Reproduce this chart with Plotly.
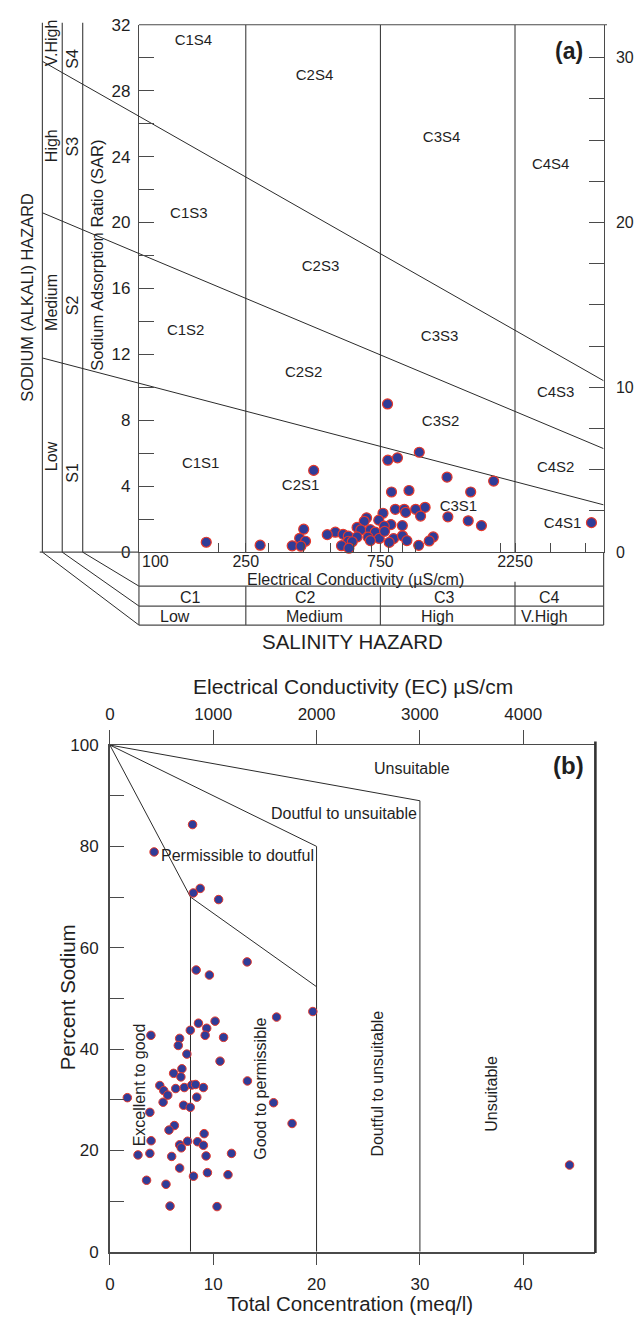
import numpy as np
import plotly.graph_objects as go

W, H = 644, 1330
FONT = "Liberation Sans, Arial, Helvetica, sans-serif"
INK = "#1f1f1f"
LINE = "#2b2b2b"
AXC = "#4a4a4a"
FILL = "#2f3c98"
EDGE = "#e5382b"

def X(x):
    return x / W

def Y(y):
    return 1 - y / H

# ---------------- Panel (a): USSL salinity / sodium hazard diagram ----------------
ec_a = [795, 1030, 862, 797, 435, 1292, 1890, 947, 821, 1567,
        1080, 847, 911, 1000, 922, 766, 1041, 1301, 4200, 1536,
        1711, 740, 670, 657, 897, 817, 774, 620, 639, 691,
        719, 401, 519, 486, 553, 577, 620, 678, 743, 835,
        776, 898, 931, 1154, 1117, 388, 407, 577, 596, 691,
        806, 546, 580, 1025, 365, 392, 281, 181]
sar_a = [8.99, 6.06, 5.72, 5.58, 4.96, 4.55, 4.31, 3.74, 3.65, 3.65,
         2.72, 2.60, 2.60, 2.60, 2.41, 2.36, 2.19, 2.14, 1.79, 1.90,
         1.61, 1.94, 2.08, 1.87, 1.61, 1.67, 1.58, 1.50, 1.35, 1.36,
         1.21, 1.39, 1.21, 1.06, 1.08, 0.97, 0.92, 0.91, 0.83, 0.82,
         1.26, 0.99, 0.70, 0.92, 0.68, 0.84, 0.66, 0.66, 0.63, 0.70,
         0.59, 0.39, 0.24, 0.41, 0.38, 0.36, 0.42, 0.60]

ec_range = [104.5, 4638.0]
salinity_bounds = [250, 750, 2250]
s_bound_left = [10.25, 18.12, 26.45]    # SAR of S-class limits at the left edge
s_bound_right = [2.87, 6.28, 10.4]      # SAR of S-class limits at the right edge
s_bound_outer = [11.78, 20.59, 29.78]   # SAR at the outer side of the hazard scale

class_labels = ["C1S4", "C2S4", "C3S4", "C4S4",
                "C1S3", "C2S3", "C3S3", "C4S3",
                "C1S2", "C2S2", "C3S2", "C4S2",
                "C1S1", "C2S1", "C3S1", "C4S1"]
class_ec = [163, 438, 1236, 3011,
            157, 460, 1216, 3137,
            153, 401, 1226, 3137,
            173, 391, 1418, 3319]
class_sar = [30.98, 28.89, 25.12, 23.5,
             20.51, 17.28, 13.04, 9.63,
             13.4, 10.83, 7.89, 5.08,
             5.32, 4.01, 2.75, 1.67]

ec_tickvals = [200, 250, 300, 400, 500, 600, 700, 750, 800, 900, 1000, 2000, 2250, 3000, 4000]
ec_labelled = {250: "250", 750: "750", 2250: "2250"}
sar_tickvals = list(range(0, 33, 2))
sar_right_tickvals = [i * 2.5 for i in range(13)]

# ---------------- Panel (b): Wilcox diagram ----------------
tc_b = [8.00, 4.28, 8.74, 8.07, 10.52, 13.28, 8.35, 9.63, 19.64, 16.13,
        8.57, 10.18, 9.37, 3.97, 6.75, 7.78, 9.22, 11.0, 6.62, 7.45,
        10.66, 6.97, 6.17, 6.87, 4.83, 5.21, 5.60, 6.37, 7.20, 7.93,
        8.29, 9.05, 8.41, 5.15, 1.69, 13.31, 15.84, 7.13, 7.78, 3.87,
        17.63, 6.24, 5.72, 9.12, 3.99, 6.75, 7.52, 8.48, 9.05, 6.91,
        2.72, 3.87, 5.98, 9.31, 11.77, 6.75, 8.09, 9.44, 11.43, 3.55,
        5.43, 5.82, 10.37, 44.48]
na_b = [84.3, 78.9, 71.7, 70.8, 69.5, 57.2, 55.6, 54.6, 47.4, 46.3,
        45.1, 45.5, 44.1, 42.7, 42.1, 43.7, 42.7, 42.3, 40.7, 39.0,
        37.6, 36.1, 35.2, 34.5, 32.8, 31.8, 30.9, 32.2, 32.4, 32.9,
        33.0, 32.4, 30.5, 29.5, 30.4, 33.7, 29.4, 28.9, 28.5, 27.5,
        25.3, 24.9, 24.0, 23.3, 21.9, 21.1, 21.8, 21.7, 21.0, 20.5,
        19.1, 19.4, 18.8, 18.9, 19.4, 16.5, 14.9, 15.6, 15.2, 14.1,
        13.3, 9.0, 8.9, 17.1]

wilcox_tc = [[0, 7.8, 7.8], [7.8, 20], [0, 20, 20], [0, 30, 30]]
wilcox_na = [[100, 70, 0], [70, 52.3], [100, 80, 0], [100, 89, 0]]

tc_range = [0, 46.98]
ec_top_range = [0, 4698]

wil_h_labels = ["Unsuitable", "Doutful to unsuitable", "Permissible to doutful"]
wil_h_tc = [29.2, 22.66, 12.32]
wil_h_na = [95.3, 86.4, 78.1]
wil_v_labels = ["Excellent to good", "Good to permissible", "Doutful to unsuitable", "Unsuitable"]
wil_v_tc = [2.9, 14.5, 25.86, 36.9]
wil_v_na = [33.0, 32.1, 33.2, 31.2]

# ---------------- layout geometry (pixels) ----------------
A_L, A_R, A_T, A_B = 135.0, 603.3, 16.0, 551.0
B_L, B_R, B_T, B_B = 105.7, 595.0, 746.7, 1260.7

fig = go.Figure()

# Panel (a) traces
for c in salinity_bounds:
    fig.add_trace(go.Scatter(x=[c, c], y=[0, 32], mode="lines",
                             line=dict(color=LINE, width=1), xaxis="x", yaxis="y",
                             hoverinfo="skip"))
for l, r in zip(s_bound_left, s_bound_right):
    fig.add_trace(go.Scatter(x=ec_range, y=[l, r], mode="lines",
                             line=dict(color=LINE, width=1), xaxis="x", yaxis="y",
                             hoverinfo="skip"))
fig.add_trace(go.Scatter(x=class_ec, y=class_sar, mode="text", text=class_labels,
                         textfont=dict(size=15, color=INK, family=FONT),
                         xaxis="x", yaxis="y", hoverinfo="skip"))
fig.add_trace(go.Scatter(x=ec_a, y=sar_a, mode="markers", cliponaxis=False,
                         marker=dict(size=10, color=FILL, line=dict(color=EDGE, width=1.2)),
                         xaxis="x", yaxis="y"))
fig.add_trace(go.Scatter(x=[None], y=[None], xaxis="x", yaxis="y2", hoverinfo="skip"))

# Panel (b) traces
for tx, ny in zip(wilcox_tc, wilcox_na):
    fig.add_trace(go.Scatter(x=tx, y=ny, mode="lines",
                             line=dict(color=LINE, width=1), xaxis="x3", yaxis="y3",
                             hoverinfo="skip"))
fig.add_trace(go.Scatter(x=tc_b, y=na_b, mode="markers", cliponaxis=False,
                         marker=dict(size=8.5, color=FILL, line=dict(color=EDGE, width=1)),
                         xaxis="x3", yaxis="y3"))
fig.add_trace(go.Scatter(x=[None], y=[None], xaxis="x4", yaxis="y3", hoverinfo="skip"))

tickfont_a = dict(size=16, color=INK, family=FONT)
tickfont_b = dict(size=17, color=INK, family=FONT)

fig.update_layout(
    width=W, height=H, autosize=False,
    margin=dict(l=0, r=0, t=0, b=0),
    paper_bgcolor="white", plot_bgcolor="white",
    showlegend=False,
    font=dict(family=FONT, color=INK),
    xaxis=dict(type="log", domain=[X(A_L), X(A_R)],
               range=[np.log10(ec_range[0]), np.log10(ec_range[1])],
               anchor="y", showgrid=False, zeroline=False,
               showline=True, linecolor=AXC, linewidth=1.2,
               ticks="inside", ticklen=9, tickwidth=1.2, tickcolor=AXC,
               tickmode="array", tickvals=ec_tickvals,
               ticktext=[ec_labelled.get(v, "") for v in ec_tickvals],
               tickfont=tickfont_a, ticklabelstandoff=-5),
    yaxis=dict(domain=[Y(A_B), Y(A_T)], range=[0, 32], anchor="x",
               showgrid=False, zeroline=False,
               showline=True, linecolor=AXC, linewidth=1.2,
               ticks="inside", ticklen=15, tickwidth=1.2, tickcolor=AXC,
               tickmode="array", tickvals=sar_tickvals,
               ticktext=[str(v) if v % 4 == 0 else "" for v in sar_tickvals],
               tickfont=dict(size=17, color=INK, family=FONT), ticklabelstandoff=4),
    yaxis2=dict(overlaying="y", side="right", range=[0, 32], anchor="x",
                showgrid=False, zeroline=False,
                showline=True, linecolor=AXC, linewidth=1.2,
                ticks="inside", ticklen=15, tickwidth=1.2, tickcolor=AXC,
                tickmode="array", tickvals=sar_right_tickvals,
                ticktext=[str(int(v)) if v % 10 == 0 else "" for v in sar_right_tickvals],
                tickfont=tickfont_a, ticklabelstandoff=8),
    xaxis3=dict(domain=[X(B_L), X(B_R)], range=tc_range, anchor="y3",
                showgrid=False, zeroline=False,
                showline=True, linecolor=AXC, linewidth=1.6,
                ticks="outside", ticklen=12, tickwidth=1.2, tickcolor=AXC,
                tickmode="array", tickvals=[0, 10, 20, 30, 40],
                tickfont=tickfont_b, ticklabelstandoff=4),
    yaxis3=dict(domain=[Y(B_B), Y(B_T)], range=[0, 100], anchor="x3",
                showgrid=False, zeroline=False,
                showline=True, linecolor=AXC, linewidth=1.6,
                ticks="inside", ticklen=14, tickwidth=1.2, tickcolor=AXC,
                tickmode="array", tickvals=list(range(0, 101, 10)),
                ticktext=[str(v) if v % 20 == 0 else "" for v in range(0, 101, 10)],
                tickfont=tickfont_b, ticklabelstandoff=6),
    xaxis4=dict(overlaying="x3", side="top", range=ec_top_range, anchor="y3",
                showgrid=False, zeroline=False,
                showline=True, linecolor=AXC, linewidth=1.4,
                ticks="outside", ticklen=14, tickwidth=1.2, tickcolor=AXC,
                tickmode="array", tickvals=[0, 1000, 2000, 3000, 4000],
                tickfont=tickfont_b, ticklabelstandoff=3),
)

# ---------------- decorative frame lines (paper space) ----------------
shapes = []

def seg(x0, y0, x1, y1, w=1.0, color=LINE):
    shapes.append(dict(type="line", xref="paper", yref="paper",
                       x0=X(x0), y0=Y(y0), x1=X(x1), y1=Y(y1),
                       line=dict(color=color, width=w)))

def ec_px(ec):
    lo, hi = np.log10(ec_range[0]), np.log10(ec_range[1])
    return A_L + (np.log10(ec) - lo) / (hi - lo) * (A_R - A_L)

seg(A_L, A_T, 606.7, A_T, 1.2, AXC)
for xv in (37.7, 57.7, 78.3):
    seg(xv, 14, xv, A_B, 1.2, AXC)
seg(35, A_B, A_L, A_B, 1.2, AXC)
seg(37.7, A_B, A_L, 625, 1.0)
seg(57.7, A_B, A_L, 605.7, 1.0)
seg(78.3, A_B, A_L, 585.5, 1.0)
for yv in (585.5, 605.7, 625):
    seg(A_L, yv, A_R, yv, 1.2, AXC)
seg(A_L, A_B, A_L, 625, 1.2, AXC)
seg(A_R, A_B, A_R, 625, 1.2, AXC)
for c in salinity_bounds:
    seg(ec_px(c), 581 if c == 2250 else 585.5, ec_px(c), 625, 1.2, AXC)
# S-class limits continued across the sodium hazard scale
for outer, left in zip(s_bound_outer, s_bound_left):
    shapes.append(dict(type="line", xref="paper", yref="y",
                       x0=X(37.7), y0=outer, x1=X(A_L), y1=left,
                       line=dict(color=LINE, width=1)))
# panel (b) right border
seg(B_R, 743, B_R, 1262, 2.6, "#333333")

fig.update_layout(shapes=shapes)

# ---------------- annotations ----------------
anns = []

def ann(text, x, y, size, angle=0, bold=False):
    if bold:
        text = "<b>" + text + "</b>"
    anns.append(dict(text=text, x=X(x), y=Y(y), xref="paper", yref="paper",
                     showarrow=False, textangle=angle, xanchor="center", yanchor="middle",
                     font=dict(size=size, color=INK, family=FONT)))

ann("SODIUM (ALKALI) HAZARD", 22, 292, 16.4, -90)
ann("V.High", 47, 34, 16, -90)
ann("High", 47, 138.5, 16, -90)
ann("Medium", 47, 297.5, 16, -90)
ann("Low", 47, 454, 16, -90)
ann("S4", 68, 50, 16, -90)
ann("S3", 68, 139, 16, -90)
ann("S2", 68, 300, 16, -90)
ann("S1", 68, 470, 16, -90)
ann("Sodium Adsorption Ratio (SAR)", 93, 250, 16.5, -90)
ann("(a)", 568, 43, 23, 0, True)
ann("100", 151.7, 561, 16)
ann("Electrical Conductivity (µS/cm)", 353, 578.5, 16)
for t, xv in zip(["C1", "C2", "C3", "C4"], [186.7, 303.3, 443.3, 548.3]):
    ann(t, xv, 597.5, 16)
for t, xv in zip(["Low", "Medium", "High", "V.High"], [171.7, 312.3, 436, 543.3]):
    ann(t, xv, 616.5, 16)
ann("SALINITY HAZARD", 350.7, 641.7, 20.5)

ann("Electrical Conductivity (EC) µS/cm", 350.5, 687, 21)
ann("(b)", 568, 767, 24, 0, True)
ann("Percent Sodium", 63, 1003, 20.5, -90)
ann("Total Concentration (meq/l)", 348, 1313, 20.5)

for t, tx, ny in zip(wil_h_labels, wil_h_tc, wil_h_na):
    anns.append(dict(text=t, x=tx, y=ny, xref="x3", yref="y3", showarrow=False,
                     xanchor="center", yanchor="middle",
                     font=dict(size=16, color=INK, family=FONT)))
for t, tx, ny in zip(wil_v_labels, wil_v_tc, wil_v_na):
    anns.append(dict(text=t, x=tx, y=ny, xref="x3", yref="y3", showarrow=False,
                     textangle=-90, xanchor="center", yanchor="middle",
                     font=dict(size=16, color=INK, family=FONT)))

fig.update_layout(annotations=anns)

fig.write_html("out.html")
